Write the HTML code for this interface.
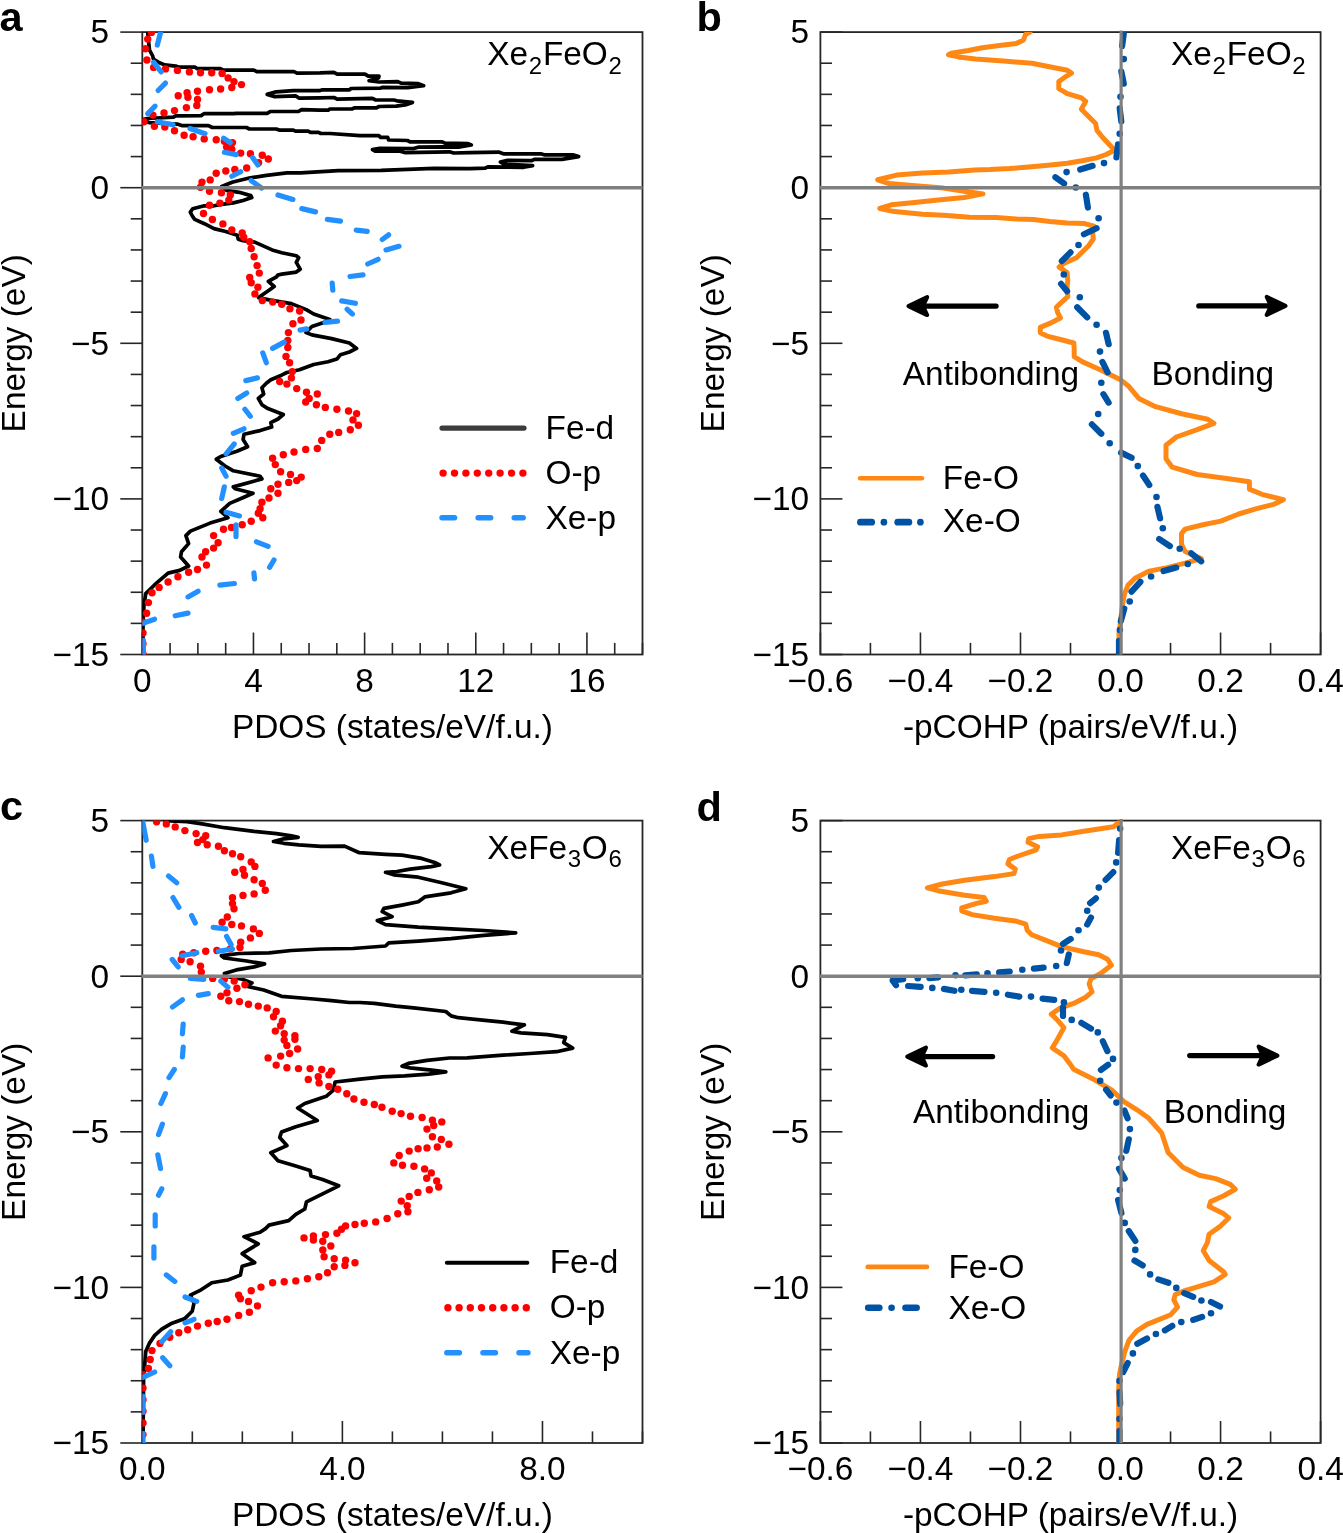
<!DOCTYPE html>
<html><head><meta charset="utf-8"><style>
html,body{margin:0;padding:0;background:#fff;}
svg{display:block;will-change:transform;}
</style></head><body>
<svg width="1343" height="1533" viewBox="0 0 1343 1533" font-family='"Liberation Sans", sans-serif' font-size="33.4" fill="#000">
<defs><clipPath id="clipa"><rect x="142.3" y="32.1" width="500.2" height="622.4"/></clipPath><clipPath id="clipb"><rect x="820.4" y="32.1" width="500.2" height="622.4"/></clipPath><clipPath id="clipc"><rect x="142.3" y="820.6" width="500.2" height="622.4"/></clipPath><clipPath id="clipd"><rect x="820.4" y="820.6" width="500.2" height="622.4"/></clipPath></defs>
<rect width="1343" height="1533" fill="#fff"/>
<rect x="142.3" y="32.1" width="500.2" height="622.4" fill="none" stroke="#262626" stroke-width="1.8"/>
<line x1="120.30" y1="654.50" x2="142.3" y2="654.50" stroke="#262626" stroke-width="1.6"/>
<text x="109.10" y="665.80" text-anchor="end">−15</text>
<line x1="130.70" y1="623.38" x2="142.3" y2="623.38" stroke="#262626" stroke-width="1.6"/>
<line x1="130.70" y1="592.26" x2="142.3" y2="592.26" stroke="#262626" stroke-width="1.6"/>
<line x1="130.70" y1="561.14" x2="142.3" y2="561.14" stroke="#262626" stroke-width="1.6"/>
<line x1="130.70" y1="530.02" x2="142.3" y2="530.02" stroke="#262626" stroke-width="1.6"/>
<line x1="120.30" y1="498.90" x2="142.3" y2="498.90" stroke="#262626" stroke-width="1.6"/>
<text x="109.10" y="510.20" text-anchor="end">−10</text>
<line x1="130.70" y1="467.78" x2="142.3" y2="467.78" stroke="#262626" stroke-width="1.6"/>
<line x1="130.70" y1="436.66" x2="142.3" y2="436.66" stroke="#262626" stroke-width="1.6"/>
<line x1="130.70" y1="405.54" x2="142.3" y2="405.54" stroke="#262626" stroke-width="1.6"/>
<line x1="130.70" y1="374.42" x2="142.3" y2="374.42" stroke="#262626" stroke-width="1.6"/>
<line x1="120.30" y1="343.30" x2="142.3" y2="343.30" stroke="#262626" stroke-width="1.6"/>
<text x="109.10" y="354.60" text-anchor="end">−5</text>
<line x1="130.70" y1="312.18" x2="142.3" y2="312.18" stroke="#262626" stroke-width="1.6"/>
<line x1="130.70" y1="281.06" x2="142.3" y2="281.06" stroke="#262626" stroke-width="1.6"/>
<line x1="130.70" y1="249.94" x2="142.3" y2="249.94" stroke="#262626" stroke-width="1.6"/>
<line x1="130.70" y1="218.82" x2="142.3" y2="218.82" stroke="#262626" stroke-width="1.6"/>
<line x1="120.30" y1="187.70" x2="142.3" y2="187.70" stroke="#262626" stroke-width="1.6"/>
<text x="109.10" y="199.00" text-anchor="end">0</text>
<line x1="130.70" y1="156.58" x2="142.3" y2="156.58" stroke="#262626" stroke-width="1.6"/>
<line x1="130.70" y1="125.46" x2="142.3" y2="125.46" stroke="#262626" stroke-width="1.6"/>
<line x1="130.70" y1="94.34" x2="142.3" y2="94.34" stroke="#262626" stroke-width="1.6"/>
<line x1="130.70" y1="63.22" x2="142.3" y2="63.22" stroke="#262626" stroke-width="1.6"/>
<line x1="120.30" y1="32.10" x2="142.3" y2="32.10" stroke="#262626" stroke-width="1.6"/>
<text x="109.10" y="43.40" text-anchor="end">5</text>
<line x1="142.30" y1="654.5" x2="142.30" y2="632.50" stroke="#262626" stroke-width="1.6"/>
<text x="142.30" y="691.50" text-anchor="middle">0</text>
<line x1="170.09" y1="654.5" x2="170.09" y2="642.90" stroke="#262626" stroke-width="1.6"/>
<line x1="197.88" y1="654.5" x2="197.88" y2="642.90" stroke="#262626" stroke-width="1.6"/>
<line x1="225.67" y1="654.5" x2="225.67" y2="642.90" stroke="#262626" stroke-width="1.6"/>
<line x1="253.46" y1="654.5" x2="253.46" y2="632.50" stroke="#262626" stroke-width="1.6"/>
<text x="253.46" y="691.50" text-anchor="middle">4</text>
<line x1="281.24" y1="654.5" x2="281.24" y2="642.90" stroke="#262626" stroke-width="1.6"/>
<line x1="309.03" y1="654.5" x2="309.03" y2="642.90" stroke="#262626" stroke-width="1.6"/>
<line x1="336.82" y1="654.5" x2="336.82" y2="642.90" stroke="#262626" stroke-width="1.6"/>
<line x1="364.61" y1="654.5" x2="364.61" y2="632.50" stroke="#262626" stroke-width="1.6"/>
<text x="364.61" y="691.50" text-anchor="middle">8</text>
<line x1="392.40" y1="654.5" x2="392.40" y2="642.90" stroke="#262626" stroke-width="1.6"/>
<line x1="420.19" y1="654.5" x2="420.19" y2="642.90" stroke="#262626" stroke-width="1.6"/>
<line x1="447.98" y1="654.5" x2="447.98" y2="642.90" stroke="#262626" stroke-width="1.6"/>
<line x1="475.77" y1="654.5" x2="475.77" y2="632.50" stroke="#262626" stroke-width="1.6"/>
<text x="475.77" y="691.50" text-anchor="middle">12</text>
<line x1="503.56" y1="654.5" x2="503.56" y2="642.90" stroke="#262626" stroke-width="1.6"/>
<line x1="531.34" y1="654.5" x2="531.34" y2="642.90" stroke="#262626" stroke-width="1.6"/>
<line x1="559.13" y1="654.5" x2="559.13" y2="642.90" stroke="#262626" stroke-width="1.6"/>
<line x1="586.92" y1="654.5" x2="586.92" y2="632.50" stroke="#262626" stroke-width="1.6"/>
<text x="586.92" y="691.50" text-anchor="middle">16</text>
<line x1="614.71" y1="654.5" x2="614.71" y2="642.90" stroke="#262626" stroke-width="1.6"/>
<line x1="642.50" y1="654.5" x2="642.50" y2="642.90" stroke="#262626" stroke-width="1.6"/>
<text x="392.40" y="737.60" text-anchor="middle">PDOS (states/eV/f.u.)</text>
<text transform="translate(24.80,343.30) rotate(-90)" text-anchor="middle">Energy (eV)</text>
<rect x="820.4" y="32.1" width="500.2" height="622.4" fill="none" stroke="#262626" stroke-width="1.8"/>
<line x1="820.4" y1="654.50" x2="842.40" y2="654.50" stroke="#262626" stroke-width="1.6"/>
<text x="809.20" y="665.80" text-anchor="end">−15</text>
<line x1="820.4" y1="623.38" x2="832.00" y2="623.38" stroke="#262626" stroke-width="1.6"/>
<line x1="820.4" y1="592.26" x2="832.00" y2="592.26" stroke="#262626" stroke-width="1.6"/>
<line x1="820.4" y1="561.14" x2="832.00" y2="561.14" stroke="#262626" stroke-width="1.6"/>
<line x1="820.4" y1="530.02" x2="832.00" y2="530.02" stroke="#262626" stroke-width="1.6"/>
<line x1="820.4" y1="498.90" x2="842.40" y2="498.90" stroke="#262626" stroke-width="1.6"/>
<text x="809.20" y="510.20" text-anchor="end">−10</text>
<line x1="820.4" y1="467.78" x2="832.00" y2="467.78" stroke="#262626" stroke-width="1.6"/>
<line x1="820.4" y1="436.66" x2="832.00" y2="436.66" stroke="#262626" stroke-width="1.6"/>
<line x1="820.4" y1="405.54" x2="832.00" y2="405.54" stroke="#262626" stroke-width="1.6"/>
<line x1="820.4" y1="374.42" x2="832.00" y2="374.42" stroke="#262626" stroke-width="1.6"/>
<line x1="820.4" y1="343.30" x2="842.40" y2="343.30" stroke="#262626" stroke-width="1.6"/>
<text x="809.20" y="354.60" text-anchor="end">−5</text>
<line x1="820.4" y1="312.18" x2="832.00" y2="312.18" stroke="#262626" stroke-width="1.6"/>
<line x1="820.4" y1="281.06" x2="832.00" y2="281.06" stroke="#262626" stroke-width="1.6"/>
<line x1="820.4" y1="249.94" x2="832.00" y2="249.94" stroke="#262626" stroke-width="1.6"/>
<line x1="820.4" y1="218.82" x2="832.00" y2="218.82" stroke="#262626" stroke-width="1.6"/>
<line x1="820.4" y1="187.70" x2="842.40" y2="187.70" stroke="#262626" stroke-width="1.6"/>
<text x="809.20" y="199.00" text-anchor="end">0</text>
<line x1="820.4" y1="156.58" x2="832.00" y2="156.58" stroke="#262626" stroke-width="1.6"/>
<line x1="820.4" y1="125.46" x2="832.00" y2="125.46" stroke="#262626" stroke-width="1.6"/>
<line x1="820.4" y1="94.34" x2="832.00" y2="94.34" stroke="#262626" stroke-width="1.6"/>
<line x1="820.4" y1="63.22" x2="832.00" y2="63.22" stroke="#262626" stroke-width="1.6"/>
<line x1="820.4" y1="32.10" x2="842.40" y2="32.10" stroke="#262626" stroke-width="1.6"/>
<text x="809.20" y="43.40" text-anchor="end">5</text>
<line x1="820.40" y1="654.5" x2="820.40" y2="632.50" stroke="#262626" stroke-width="1.6"/>
<text x="820.40" y="691.50" text-anchor="middle">−0.6</text>
<line x1="870.42" y1="654.5" x2="870.42" y2="642.90" stroke="#262626" stroke-width="1.6"/>
<line x1="920.44" y1="654.5" x2="920.44" y2="632.50" stroke="#262626" stroke-width="1.6"/>
<text x="920.44" y="691.50" text-anchor="middle">−0.4</text>
<line x1="970.46" y1="654.5" x2="970.46" y2="642.90" stroke="#262626" stroke-width="1.6"/>
<line x1="1020.48" y1="654.5" x2="1020.48" y2="632.50" stroke="#262626" stroke-width="1.6"/>
<text x="1020.48" y="691.50" text-anchor="middle">−0.2</text>
<line x1="1070.50" y1="654.5" x2="1070.50" y2="642.90" stroke="#262626" stroke-width="1.6"/>
<line x1="1120.52" y1="654.5" x2="1120.52" y2="632.50" stroke="#262626" stroke-width="1.6"/>
<text x="1120.52" y="691.50" text-anchor="middle">0.0</text>
<line x1="1170.54" y1="654.5" x2="1170.54" y2="642.90" stroke="#262626" stroke-width="1.6"/>
<line x1="1220.56" y1="654.5" x2="1220.56" y2="632.50" stroke="#262626" stroke-width="1.6"/>
<text x="1220.56" y="691.50" text-anchor="middle">0.2</text>
<line x1="1270.58" y1="654.5" x2="1270.58" y2="642.90" stroke="#262626" stroke-width="1.6"/>
<line x1="1320.60" y1="654.5" x2="1320.60" y2="632.50" stroke="#262626" stroke-width="1.6"/>
<text x="1320.60" y="691.50" text-anchor="middle">0.4</text>
<text x="1070.50" y="737.60" text-anchor="middle">-pCOHP (pairs/eV/f.u.)</text>
<text transform="translate(724.20,343.30) rotate(-90)" text-anchor="middle">Energy (eV)</text>
<rect x="142.3" y="820.6" width="500.2" height="622.4" fill="none" stroke="#262626" stroke-width="1.8"/>
<line x1="120.30" y1="1443.00" x2="142.3" y2="1443.00" stroke="#262626" stroke-width="1.6"/>
<text x="109.10" y="1454.30" text-anchor="end">−15</text>
<line x1="130.70" y1="1411.88" x2="142.3" y2="1411.88" stroke="#262626" stroke-width="1.6"/>
<line x1="130.70" y1="1380.76" x2="142.3" y2="1380.76" stroke="#262626" stroke-width="1.6"/>
<line x1="130.70" y1="1349.64" x2="142.3" y2="1349.64" stroke="#262626" stroke-width="1.6"/>
<line x1="130.70" y1="1318.52" x2="142.3" y2="1318.52" stroke="#262626" stroke-width="1.6"/>
<line x1="120.30" y1="1287.40" x2="142.3" y2="1287.40" stroke="#262626" stroke-width="1.6"/>
<text x="109.10" y="1298.70" text-anchor="end">−10</text>
<line x1="130.70" y1="1256.28" x2="142.3" y2="1256.28" stroke="#262626" stroke-width="1.6"/>
<line x1="130.70" y1="1225.16" x2="142.3" y2="1225.16" stroke="#262626" stroke-width="1.6"/>
<line x1="130.70" y1="1194.04" x2="142.3" y2="1194.04" stroke="#262626" stroke-width="1.6"/>
<line x1="130.70" y1="1162.92" x2="142.3" y2="1162.92" stroke="#262626" stroke-width="1.6"/>
<line x1="120.30" y1="1131.80" x2="142.3" y2="1131.80" stroke="#262626" stroke-width="1.6"/>
<text x="109.10" y="1143.10" text-anchor="end">−5</text>
<line x1="130.70" y1="1100.68" x2="142.3" y2="1100.68" stroke="#262626" stroke-width="1.6"/>
<line x1="130.70" y1="1069.56" x2="142.3" y2="1069.56" stroke="#262626" stroke-width="1.6"/>
<line x1="130.70" y1="1038.44" x2="142.3" y2="1038.44" stroke="#262626" stroke-width="1.6"/>
<line x1="130.70" y1="1007.32" x2="142.3" y2="1007.32" stroke="#262626" stroke-width="1.6"/>
<line x1="120.30" y1="976.20" x2="142.3" y2="976.20" stroke="#262626" stroke-width="1.6"/>
<text x="109.10" y="987.50" text-anchor="end">0</text>
<line x1="130.70" y1="945.08" x2="142.3" y2="945.08" stroke="#262626" stroke-width="1.6"/>
<line x1="130.70" y1="913.96" x2="142.3" y2="913.96" stroke="#262626" stroke-width="1.6"/>
<line x1="130.70" y1="882.84" x2="142.3" y2="882.84" stroke="#262626" stroke-width="1.6"/>
<line x1="130.70" y1="851.72" x2="142.3" y2="851.72" stroke="#262626" stroke-width="1.6"/>
<line x1="120.30" y1="820.60" x2="142.3" y2="820.60" stroke="#262626" stroke-width="1.6"/>
<text x="109.10" y="831.90" text-anchor="end">5</text>
<line x1="142.30" y1="1443.0" x2="142.30" y2="1421.00" stroke="#262626" stroke-width="1.6"/>
<text x="142.30" y="1480.00" text-anchor="middle">0.0</text>
<line x1="192.32" y1="1443.0" x2="192.32" y2="1431.40" stroke="#262626" stroke-width="1.6"/>
<line x1="242.34" y1="1443.0" x2="242.34" y2="1431.40" stroke="#262626" stroke-width="1.6"/>
<line x1="292.36" y1="1443.0" x2="292.36" y2="1431.40" stroke="#262626" stroke-width="1.6"/>
<line x1="342.38" y1="1443.0" x2="342.38" y2="1421.00" stroke="#262626" stroke-width="1.6"/>
<text x="342.38" y="1480.00" text-anchor="middle">4.0</text>
<line x1="392.40" y1="1443.0" x2="392.40" y2="1431.40" stroke="#262626" stroke-width="1.6"/>
<line x1="442.42" y1="1443.0" x2="442.42" y2="1431.40" stroke="#262626" stroke-width="1.6"/>
<line x1="492.44" y1="1443.0" x2="492.44" y2="1431.40" stroke="#262626" stroke-width="1.6"/>
<line x1="542.46" y1="1443.0" x2="542.46" y2="1421.00" stroke="#262626" stroke-width="1.6"/>
<text x="542.46" y="1480.00" text-anchor="middle">8.0</text>
<line x1="592.48" y1="1443.0" x2="592.48" y2="1431.40" stroke="#262626" stroke-width="1.6"/>
<line x1="642.50" y1="1443.0" x2="642.50" y2="1431.40" stroke="#262626" stroke-width="1.6"/>
<text x="392.40" y="1526.10" text-anchor="middle">PDOS (states/eV/f.u.)</text>
<text transform="translate(24.80,1131.80) rotate(-90)" text-anchor="middle">Energy (eV)</text>
<rect x="820.4" y="820.6" width="500.2" height="622.4" fill="none" stroke="#262626" stroke-width="1.8"/>
<line x1="820.4" y1="1443.00" x2="842.40" y2="1443.00" stroke="#262626" stroke-width="1.6"/>
<text x="809.20" y="1454.30" text-anchor="end">−15</text>
<line x1="820.4" y1="1411.88" x2="832.00" y2="1411.88" stroke="#262626" stroke-width="1.6"/>
<line x1="820.4" y1="1380.76" x2="832.00" y2="1380.76" stroke="#262626" stroke-width="1.6"/>
<line x1="820.4" y1="1349.64" x2="832.00" y2="1349.64" stroke="#262626" stroke-width="1.6"/>
<line x1="820.4" y1="1318.52" x2="832.00" y2="1318.52" stroke="#262626" stroke-width="1.6"/>
<line x1="820.4" y1="1287.40" x2="842.40" y2="1287.40" stroke="#262626" stroke-width="1.6"/>
<text x="809.20" y="1298.70" text-anchor="end">−10</text>
<line x1="820.4" y1="1256.28" x2="832.00" y2="1256.28" stroke="#262626" stroke-width="1.6"/>
<line x1="820.4" y1="1225.16" x2="832.00" y2="1225.16" stroke="#262626" stroke-width="1.6"/>
<line x1="820.4" y1="1194.04" x2="832.00" y2="1194.04" stroke="#262626" stroke-width="1.6"/>
<line x1="820.4" y1="1162.92" x2="832.00" y2="1162.92" stroke="#262626" stroke-width="1.6"/>
<line x1="820.4" y1="1131.80" x2="842.40" y2="1131.80" stroke="#262626" stroke-width="1.6"/>
<text x="809.20" y="1143.10" text-anchor="end">−5</text>
<line x1="820.4" y1="1100.68" x2="832.00" y2="1100.68" stroke="#262626" stroke-width="1.6"/>
<line x1="820.4" y1="1069.56" x2="832.00" y2="1069.56" stroke="#262626" stroke-width="1.6"/>
<line x1="820.4" y1="1038.44" x2="832.00" y2="1038.44" stroke="#262626" stroke-width="1.6"/>
<line x1="820.4" y1="1007.32" x2="832.00" y2="1007.32" stroke="#262626" stroke-width="1.6"/>
<line x1="820.4" y1="976.20" x2="842.40" y2="976.20" stroke="#262626" stroke-width="1.6"/>
<text x="809.20" y="987.50" text-anchor="end">0</text>
<line x1="820.4" y1="945.08" x2="832.00" y2="945.08" stroke="#262626" stroke-width="1.6"/>
<line x1="820.4" y1="913.96" x2="832.00" y2="913.96" stroke="#262626" stroke-width="1.6"/>
<line x1="820.4" y1="882.84" x2="832.00" y2="882.84" stroke="#262626" stroke-width="1.6"/>
<line x1="820.4" y1="851.72" x2="832.00" y2="851.72" stroke="#262626" stroke-width="1.6"/>
<line x1="820.4" y1="820.60" x2="842.40" y2="820.60" stroke="#262626" stroke-width="1.6"/>
<text x="809.20" y="831.90" text-anchor="end">5</text>
<line x1="820.40" y1="1443.0" x2="820.40" y2="1421.00" stroke="#262626" stroke-width="1.6"/>
<text x="820.40" y="1480.00" text-anchor="middle">−0.6</text>
<line x1="870.42" y1="1443.0" x2="870.42" y2="1431.40" stroke="#262626" stroke-width="1.6"/>
<line x1="920.44" y1="1443.0" x2="920.44" y2="1421.00" stroke="#262626" stroke-width="1.6"/>
<text x="920.44" y="1480.00" text-anchor="middle">−0.4</text>
<line x1="970.46" y1="1443.0" x2="970.46" y2="1431.40" stroke="#262626" stroke-width="1.6"/>
<line x1="1020.48" y1="1443.0" x2="1020.48" y2="1421.00" stroke="#262626" stroke-width="1.6"/>
<text x="1020.48" y="1480.00" text-anchor="middle">−0.2</text>
<line x1="1070.50" y1="1443.0" x2="1070.50" y2="1431.40" stroke="#262626" stroke-width="1.6"/>
<line x1="1120.52" y1="1443.0" x2="1120.52" y2="1421.00" stroke="#262626" stroke-width="1.6"/>
<text x="1120.52" y="1480.00" text-anchor="middle">0.0</text>
<line x1="1170.54" y1="1443.0" x2="1170.54" y2="1431.40" stroke="#262626" stroke-width="1.6"/>
<line x1="1220.56" y1="1443.0" x2="1220.56" y2="1421.00" stroke="#262626" stroke-width="1.6"/>
<text x="1220.56" y="1480.00" text-anchor="middle">0.2</text>
<line x1="1270.58" y1="1443.0" x2="1270.58" y2="1431.40" stroke="#262626" stroke-width="1.6"/>
<line x1="1320.60" y1="1443.0" x2="1320.60" y2="1421.00" stroke="#262626" stroke-width="1.6"/>
<text x="1320.60" y="1480.00" text-anchor="middle">0.4</text>
<text x="1070.50" y="1526.10" text-anchor="middle">-pCOHP (pairs/eV/f.u.)</text>
<text transform="translate(724.20,1131.80) rotate(-90)" text-anchor="middle">Energy (eV)</text>
<text x="-0.5" y="31" font-size="41.5" font-weight="bold">a</text>
<text x="696.5" y="30.6" font-size="41.5" font-weight="bold">b</text>
<text x="0" y="819.6" font-size="41.5" font-weight="bold">c</text>
<text x="696.5" y="820.6" font-size="41.5" font-weight="bold">d</text>
<text x="487.3" y="65.1"><tspan>Xe</tspan><tspan font-size="24" dx="0.6" dy="8.4">2</tspan><tspan dx="0.8" dy="-8.4">FeO</tspan><tspan font-size="24" dx="0.6" dy="8.4">2</tspan></text>
<text x="1171.1" y="65.3"><tspan>Xe</tspan><tspan font-size="24" dx="0.6" dy="8.4">2</tspan><tspan dx="0.8" dy="-8.4">FeO</tspan><tspan font-size="24" dx="0.6" dy="8.4">2</tspan></text>
<text x="487.3" y="859"><tspan>XeFe</tspan><tspan font-size="24" dx="0.6" dy="8.4">3</tspan><tspan dx="0.8" dy="-8.4">O</tspan><tspan font-size="24" dx="0.6" dy="8.4">6</tspan></text>
<text x="1171.1" y="859"><tspan>XeFe</tspan><tspan font-size="24" dx="0.6" dy="8.4">3</tspan><tspan dx="0.8" dy="-8.4">O</tspan><tspan font-size="24" dx="0.6" dy="8.4">6</tspan></text>
<line x1="442.0" y1="428.1" x2="524.0" y2="428.1" stroke="#3c3c3c" stroke-width="5.2" stroke-linecap="round"/>
<circle cx="443.1" cy="473.1" r="3.7" fill="#ff0000"/>
<circle cx="454.5" cy="473.1" r="3.7" fill="#ff0000"/>
<circle cx="465.9" cy="473.1" r="3.7" fill="#ff0000"/>
<circle cx="477.3" cy="473.1" r="3.7" fill="#ff0000"/>
<circle cx="488.7" cy="473.1" r="3.7" fill="#ff0000"/>
<circle cx="500.1" cy="473.1" r="3.7" fill="#ff0000"/>
<circle cx="511.5" cy="473.1" r="3.7" fill="#ff0000"/>
<circle cx="522.9" cy="473.1" r="3.7" fill="#ff0000"/>
<line x1="442.0" y1="517.8" x2="454.6" y2="517.8" stroke="#2390ff" stroke-width="5.4" stroke-linecap="round"/>
<line x1="478.1" y1="517.8" x2="490.7" y2="517.8" stroke="#2390ff" stroke-width="5.4" stroke-linecap="round"/>
<line x1="514.2" y1="517.8" x2="523.2" y2="517.8" stroke="#2390ff" stroke-width="5.4" stroke-linecap="round"/>
<text x="545.5" y="438.9">Fe-d</text>
<text x="545.5" y="484.3">O-p</text>
<text x="545.5" y="528.5">Xe-p</text>
<line x1="446.8" y1="1262.8" x2="527.4" y2="1262.8" stroke="#000" stroke-width="3.9" stroke-linecap="round"/>
<circle cx="447.9" cy="1307.7" r="3.7" fill="#ff0000"/>
<circle cx="459.1" cy="1307.7" r="3.7" fill="#ff0000"/>
<circle cx="470.3" cy="1307.7" r="3.7" fill="#ff0000"/>
<circle cx="481.5" cy="1307.7" r="3.7" fill="#ff0000"/>
<circle cx="492.7" cy="1307.7" r="3.7" fill="#ff0000"/>
<circle cx="503.9" cy="1307.7" r="3.7" fill="#ff0000"/>
<circle cx="515.1" cy="1307.7" r="3.7" fill="#ff0000"/>
<circle cx="526.3" cy="1307.7" r="3.7" fill="#ff0000"/>
<line x1="446.8" y1="1352.8" x2="459.4" y2="1352.8" stroke="#2390ff" stroke-width="5.4" stroke-linecap="round"/>
<line x1="482.9" y1="1352.8" x2="495.5" y2="1352.8" stroke="#2390ff" stroke-width="5.4" stroke-linecap="round"/>
<line x1="519.0" y1="1352.8" x2="528.0" y2="1352.8" stroke="#2390ff" stroke-width="5.4" stroke-linecap="round"/>
<text x="549.7" y="1273.0">Fe-d</text>
<text x="549.7" y="1318.4">O-p</text>
<text x="549.7" y="1363.7">Xe-p</text>
<line x1="860.1" y1="478.3" x2="921.9" y2="478.3" stroke="#ff8814" stroke-width="4.6" stroke-linecap="round"/>
<line x1="860.4" y1="522.2" x2="871.7" y2="522.2" stroke="#0052a5" stroke-width="6.7" stroke-linecap="round"/>
<circle cx="883.9" cy="522.2" r="3.35" fill="#0052a5"/>
<line x1="897.7" y1="522.2" x2="908.9" y2="522.2" stroke="#0052a5" stroke-width="6.7" stroke-linecap="round"/>
<circle cx="920.4" cy="522.2" r="3.35" fill="#0052a5"/>
<text x="942.8" y="489">Fe-O</text>
<text x="942.8" y="531.9">Xe-O</text>
<line x1="867.8" y1="1266.9" x2="926.9" y2="1266.9" stroke="#ff8814" stroke-width="4.8" stroke-linecap="round"/>
<line x1="868.2" y1="1307.8" x2="879.3" y2="1307.8" stroke="#0052a5" stroke-width="6.6" stroke-linecap="round"/>
<circle cx="891.6" cy="1307.8" r="3.3" fill="#0052a5"/>
<line x1="905.5" y1="1307.8" x2="916.6" y2="1307.8" stroke="#0052a5" stroke-width="6.6" stroke-linecap="round"/>
<text x="948.4" y="1277.5">Fe-O</text>
<text x="948.4" y="1318.5">Xe-O</text>
<line x1="996.1" y1="306.1" x2="923.0" y2="306.1" stroke="#000" stroke-width="5.2" stroke-linecap="round"/>
<path d="M908.4,306.1 L927.2,297.1 L923.0,306.1 L927.2,315.1 Z" fill="#000" stroke="#000" stroke-width="4" stroke-linejoin="round"/>
<line x1="1198.8" y1="305.9" x2="1270.9" y2="305.9" stroke="#000" stroke-width="5.2" stroke-linecap="round"/>
<path d="M1285.5,305.9 L1266.7,296.9 L1270.9,305.9 L1266.7,314.9 Z" fill="#000" stroke="#000" stroke-width="4" stroke-linejoin="round"/>
<line x1="992.6" y1="1056.6" x2="921.8" y2="1056.6" stroke="#000" stroke-width="5.2" stroke-linecap="round"/>
<path d="M907.2,1056.6 L926.0,1047.6 L921.8,1056.6 L926.0,1065.6 Z" fill="#000" stroke="#000" stroke-width="4" stroke-linejoin="round"/>
<line x1="1189.7" y1="1055.6" x2="1262.8" y2="1055.6" stroke="#000" stroke-width="5.2" stroke-linecap="round"/>
<path d="M1277.4,1055.6 L1258.6,1046.6 L1262.8,1055.6 L1258.6,1064.6 Z" fill="#000" stroke="#000" stroke-width="4" stroke-linejoin="round"/>
<text x="902.8" y="385.4">Antibonding</text>
<text x="1151.5" y="384.8">Bonding</text>
<text x="912.9" y="1122.5">Antibonding</text>
<text x="1163.8" y="1122.9">Bonding</text>
<g clip-path="url(#clipa)">
<polyline points="147.7,32.1 148.4,39.9 149.5,50.0 152.7,56.0 153.4,59.0 159.4,62.7 164.6,64.9 175.7,66.1 178.7,67.2 195.1,67.2 197.3,68.7 220.4,68.7 223.4,70.1 253.8,70.2 256.8,71.7 294.0,71.7 297.0,73.2 320.0,72.9 333.9,72.4 337.2,74.2 365.0,74.2 368.3,76.2 379.0,76.2 378.6,77.9 369.1,80.7 379.0,82.0 397.8,81.6 401.1,83.2 418.3,83.6 423.6,85.7 407.6,87.7 382.2,87.3 380.6,88.1 351.1,88.5 349.5,89.8 322.5,89.8 319.4,90.7 293.3,90.7 276.2,91.8 267.2,94.4 274.7,96.6 295.5,95.9 299.2,98.1 320.0,97.8 333.9,97.5 337.2,99.2 372.4,98.4 375.7,100.0 393.7,100.0 397.0,100.8 412.5,102.4 405.2,104.9 396.2,106.1 379.0,106.5 376.5,107.8 354.4,107.8 351.9,109.0 329.8,109.0 328.2,110.2 320.0,110.2 301.5,109.7 298.5,111.5 270.2,111.5 267.2,113.4 236.0,113.4 233.8,113.7 204.0,113.7 201.1,115.6 175.7,115.9 173.5,117.1 147.4,118.5 142.6,119.5 142.6,120.2 148.9,122.6 177.2,124.1 181.7,125.6 208.5,125.6 212.2,127.5 246.4,127.5 249.4,129.0 276.2,129.0 279.1,130.1 293.3,130.1 295.5,131.2 308.2,131.2 310.4,132.4 318.6,132.4 320.8,133.5 330.0,133.5 360.0,135.6 378.8,135.6 380.6,137.4 387.7,137.4 388.6,140.0 407.4,140.5 410.0,141.8 442.2,141.8 444.9,143.2 468.1,143.6 471.3,145.0 458.3,147.2 443.1,146.9 418.1,147.2 413.6,148.5 379.7,148.3 372.5,149.6 375.2,151.2 400.2,151.2 404.7,152.6 449.4,151.8 453.8,153.0 470.0,152.6 498.6,152.1 504.0,153.9 541.5,153.9 544.2,154.8 572.8,154.8 578.6,156.6 562.0,159.3 534.3,159.3 531.7,160.6 507.5,160.4 500.4,162.0 504.0,164.2 532.6,165.6 523.6,167.3 487.9,166.8 485.2,168.2 470.0,168.7 434.2,168.4 381.1,170.3 338.3,170.6 300.6,172.8 286.9,172.8 266.4,175.4 249.2,178.0 232.1,182.3 221.8,186.5 226.6,190.3 239.2,192.3 250.8,195.6 251.8,197.6 243.1,200.5 233.4,202.9 221.8,204.4 214.0,205.8 204.4,205.8 192.7,208.7 190.3,212.1 192.3,216.0 194.7,219.4 204.4,223.7 214.0,228.6 225.7,231.5 237.3,235.3 238.2,239.2 243.1,240.7 254.7,242.1 272.1,249.9 281.8,252.8 296.3,255.7 298.7,257.6 296.3,262.4 300.2,269.2 296.3,272.1 281.8,274.1 277.9,275.0 276.5,276.8 268.3,281.3 274.2,286.5 269.0,290.2 258.6,297.6 269.0,299.9 291.4,303.6 306.3,309.6 313.7,314.0 329.8,319.4 323.8,322.4 311.9,326.5 306.0,332.5 311.9,334.9 331.6,338.6 349.4,343.0 356.6,348.4 349.4,352.0 340.5,354.7 336.9,359.1 328.0,361.8 313.7,364.5 299.4,369.8 286.9,372.5 281.5,375.2 270.8,379.7 266.3,383.2 261.9,387.7 263.7,394.0 258.3,398.4 261.9,404.7 267.2,408.3 283.3,414.5 278.0,419.0 270.8,422.6 271.7,427.0 260.1,430.6 244.0,434.2 243.1,439.5 247.6,446.7 236.9,451.2 220.8,456.5 216.3,459.2 224.3,465.5 233.3,470.8 260.1,476.2 261.9,478.9 233.3,486.9 235.1,488.7 253.0,493.3 242.2,498.0 229.7,503.4 220.8,511.4 227.9,517.7 210.1,523.1 190.4,531.1 185.9,535.6 188.6,543.6 181.5,551.7 180.6,557.0 188.6,566.0 179.7,570.4 168.1,573.1 154.7,584.7 145.7,593.6 143.9,606.2 143.0,624.0 143.0,654.4" fill="none" stroke="#000" stroke-width="3.7" stroke-linejoin="round" stroke-linecap="round"/>
<g fill="#ff0000"><circle cx="151.4" cy="32.4" r="3.7"/><circle cx="147.7" cy="39.1" r="3.7"/><circle cx="145.4" cy="48.8" r="3.7"/><circle cx="146.9" cy="60.0" r="3.7"/><circle cx="153.6" cy="67.4" r="3.7"/><circle cx="165.5" cy="68.9" r="3.7"/><circle cx="177.4" cy="70.4" r="3.7"/><circle cx="189.4" cy="71.9" r="3.7"/><circle cx="200.5" cy="72.7" r="3.7"/><circle cx="211.7" cy="72.7" r="3.7"/><circle cx="222.1" cy="73.4" r="3.7"/><circle cx="228.1" cy="77.9" r="3.7"/><circle cx="234.0" cy="81.6" r="3.7"/><circle cx="241.5" cy="84.6" r="3.7"/><circle cx="231.8" cy="87.5" r="3.7"/><circle cx="220.6" cy="89.0" r="3.7"/><circle cx="209.5" cy="89.8" r="3.7"/><circle cx="197.5" cy="91.3" r="3.7"/><circle cx="187.1" cy="92.8" r="3.7"/><circle cx="178.2" cy="95.7" r="3.7"/><circle cx="187.9" cy="97.2" r="3.7"/><circle cx="197.5" cy="99.5" r="3.7"/><circle cx="196.8" cy="105.4" r="3.7"/><circle cx="186.4" cy="107.6" r="3.7"/><circle cx="174.5" cy="110.6" r="3.7"/><circle cx="164.0" cy="112.9" r="3.7"/><circle cx="152.9" cy="115.1" r="3.7"/><circle cx="143.9" cy="121.8" r="3.7"/><circle cx="154.4" cy="126.3" r="3.7"/><circle cx="164.8" cy="127.0" r="3.7"/><circle cx="174.5" cy="130.7" r="3.7"/><circle cx="184.1" cy="135.2" r="3.7"/><circle cx="193.1" cy="136.7" r="3.7"/><circle cx="204.2" cy="138.9" r="3.7"/><circle cx="216.2" cy="139.7" r="3.7"/><circle cx="224.4" cy="141.2" r="3.7"/><circle cx="232.5" cy="142.6" r="3.7"/><circle cx="226.6" cy="147.1" r="3.7"/><circle cx="231.8" cy="149.3" r="3.7"/><circle cx="240.7" cy="153.1" r="3.7"/><circle cx="250.4" cy="153.8" r="3.7"/><circle cx="262.3" cy="155.3" r="3.7"/><circle cx="268.3" cy="159.0" r="3.7"/><circle cx="258.6" cy="162.8" r="3.7"/><circle cx="246.7" cy="168.0" r="3.7"/><circle cx="234.8" cy="169.5" r="3.7"/><circle cx="225.8" cy="171.0" r="3.7"/><circle cx="216.2" cy="173.2" r="3.7"/><circle cx="210.2" cy="179.9" r="3.7"/><circle cx="202.0" cy="182.1" r="3.7"/><circle cx="200.5" cy="187.3" r="3.7"/><circle cx="209.5" cy="191.2" r="3.7"/><circle cx="221.4" cy="192.7" r="3.7"/><circle cx="230.3" cy="194.9" r="3.7"/><circle cx="228.8" cy="200.1" r="3.7"/><circle cx="219.9" cy="203.1" r="3.7"/><circle cx="209.5" cy="205.3" r="3.7"/><circle cx="203.5" cy="213.5" r="3.7"/><circle cx="212.4" cy="219.5" r="3.7"/><circle cx="222.9" cy="223.9" r="3.7"/><circle cx="231.8" cy="229.9" r="3.7"/><circle cx="242.2" cy="232.9" r="3.7"/><circle cx="243.7" cy="237.3" r="3.7"/><circle cx="249.7" cy="241.8" r="3.7"/><circle cx="251.2" cy="248.5" r="3.7"/><circle cx="254.1" cy="256.7" r="3.7"/><circle cx="257.1" cy="265.6" r="3.7"/><circle cx="259.3" cy="273.1" r="3.7"/><circle cx="249.7" cy="277.5" r="3.7"/><circle cx="251.2" cy="282.8" r="3.7"/><circle cx="257.9" cy="287.2" r="3.7"/><circle cx="254.9" cy="293.9" r="3.7"/><circle cx="262.3" cy="300.6" r="3.7"/><circle cx="272.7" cy="302.1" r="3.7"/><circle cx="281.7" cy="304.3" r="3.7"/><circle cx="289.9" cy="308.8" r="3.7"/><circle cx="299.6" cy="311.0" r="3.7"/><circle cx="301.0" cy="320.0" r="3.7"/><circle cx="292.9" cy="323.7" r="3.7"/><circle cx="288.4" cy="332.6" r="3.7"/><circle cx="287.8" cy="340.4" r="3.7"/><circle cx="287.8" cy="347.5" r="3.7"/><circle cx="286.0" cy="356.4" r="3.7"/><circle cx="289.6" cy="362.7" r="3.7"/><circle cx="292.3" cy="371.6" r="3.7"/><circle cx="291.4" cy="377.9" r="3.7"/><circle cx="279.7" cy="381.5" r="3.7"/><circle cx="286.9" cy="384.1" r="3.7"/><circle cx="296.7" cy="388.6" r="3.7"/><circle cx="306.5" cy="392.2" r="3.7"/><circle cx="317.3" cy="394.0" r="3.7"/><circle cx="309.2" cy="398.4" r="3.7"/><circle cx="305.7" cy="402.0" r="3.7"/><circle cx="316.4" cy="404.7" r="3.7"/><circle cx="325.3" cy="407.4" r="3.7"/><circle cx="336.9" cy="409.2" r="3.7"/><circle cx="348.5" cy="411.0" r="3.7"/><circle cx="356.6" cy="413.6" r="3.7"/><circle cx="353.0" cy="419.9" r="3.7"/><circle cx="358.4" cy="425.2" r="3.7"/><circle cx="350.3" cy="429.7" r="3.7"/><circle cx="338.7" cy="432.4" r="3.7"/><circle cx="329.8" cy="434.2" r="3.7"/><circle cx="321.7" cy="440.4" r="3.7"/><circle cx="317.3" cy="448.5" r="3.7"/><circle cx="305.7" cy="449.4" r="3.7"/><circle cx="294.0" cy="452.0" r="3.7"/><circle cx="283.3" cy="454.7" r="3.7"/><circle cx="272.6" cy="458.3" r="3.7"/><circle cx="275.3" cy="464.6" r="3.7"/><circle cx="280.6" cy="471.7" r="3.7"/><circle cx="290.5" cy="474.4" r="3.7"/><circle cx="301.2" cy="477.1" r="3.7"/><circle cx="296.7" cy="480.6" r="3.7"/><circle cx="288.7" cy="482.4" r="3.7"/><circle cx="278.0" cy="484.2" r="3.7"/><circle cx="270.8" cy="488.7" r="3.7"/><circle cx="278.0" cy="493.3" r="3.7"/><circle cx="269.0" cy="498.0" r="3.7"/><circle cx="261.9" cy="502.3" r="3.7"/><circle cx="260.1" cy="508.8" r="3.7"/><circle cx="258.3" cy="513.2" r="3.7"/><circle cx="262.8" cy="517.7" r="3.7"/><circle cx="251.2" cy="521.3" r="3.7"/><circle cx="242.2" cy="524.8" r="3.7"/><circle cx="231.5" cy="527.5" r="3.7"/><circle cx="223.5" cy="529.3" r="3.7"/><circle cx="213.6" cy="535.6" r="3.7"/><circle cx="218.1" cy="542.7" r="3.7"/><circle cx="213.6" cy="548.1" r="3.7"/><circle cx="205.6" cy="551.7" r="3.7"/><circle cx="202.0" cy="557.0" r="3.7"/><circle cx="206.5" cy="565.1" r="3.7"/><circle cx="197.5" cy="569.5" r="3.7"/><circle cx="188.6" cy="572.2" r="3.7"/><circle cx="177.9" cy="576.7" r="3.7"/><circle cx="168.1" cy="582.0" r="3.7"/><circle cx="159.1" cy="587.4" r="3.7"/><circle cx="152.0" cy="592.8" r="3.7"/><circle cx="148.4" cy="602.6" r="3.7"/><circle cx="146.6" cy="613.3" r="3.7"/><circle cx="143.0" cy="622.2" r="3.7"/><circle cx="143.0" cy="633.0" r="3.7"/><circle cx="143.0" cy="643.7" r="3.7"/><circle cx="143.0" cy="654.0" r="3.7"/></g>
<g stroke="#2390ff" stroke-width="5.2" stroke-linecap="round" fill="none"><line x1="160.5" y1="32.5" x2="157.3" y2="45.1"/><line x1="153.6" y1="62.2" x2="161.1" y2="71.9"/><line x1="165.5" y1="83.1" x2="158.1" y2="90.5"/><line x1="155.1" y1="106.2" x2="147.7" y2="113.6"/><line x1="157.3" y1="121.8" x2="173" y2="124.8"/><line x1="190.1" y1="128.5" x2="205" y2="133.7"/><line x1="223.6" y1="138.2" x2="230.3" y2="142.6"/><line x1="224.4" y1="152.3" x2="236.3" y2="154.6"/><line x1="252.6" y1="157.5" x2="257.9" y2="165"/><line x1="240.7" y1="171.7" x2="231.8" y2="176.2"/><line x1="251.2" y1="180.6" x2="261.6" y2="188.1"/><line x1="278" y1="194.9" x2="292.9" y2="199.4"/><line x1="301.8" y1="208.6" x2="315.5" y2="211.9"/><line x1="327.4" y1="219.3" x2="340.5" y2="221.1"/><line x1="356.3" y1="230.1" x2="367.2" y2="231.4"/><line x1="382.3" y1="239.5" x2="388.6" y2="234.8"/><line x1="386" y1="249.9" x2="399" y2="246.3"/><line x1="378.1" y1="259.3" x2="367.7" y2="264"/><line x1="363" y1="274.9" x2="350" y2="276.5"/><line x1="332.2" y1="283" x2="332.8" y2="290.2"/><line x1="341.7" y1="300.9" x2="355.4" y2="303.3"/><line x1="347.1" y1="309.3" x2="352.4" y2="314"/><line x1="337.5" y1="321.2" x2="325" y2="322.4"/><line x1="306.6" y1="328.9" x2="300" y2="330.1"/><line x1="284.2" y1="342.1" x2="272.6" y2="348.4"/><line x1="262.8" y1="352.9" x2="266.3" y2="362.7"/><line x1="257.4" y1="377.9" x2="245.8" y2="380.6"/><line x1="246.7" y1="393.1" x2="237.8" y2="398.4"/><line x1="244.9" y1="409.2" x2="250.3" y2="416.3"/><line x1="244" y1="428.8" x2="233.3" y2="433.3"/><line x1="234.2" y1="444" x2="226.1" y2="453.8"/><line x1="221.7" y1="468.1" x2="226.1" y2="476.2"/><line x1="224.3" y1="486.9" x2="221.7" y2="498.5"/><line x1="226.1" y1="512.3" x2="239.5" y2="515.9"/><line x1="236" y1="524.8" x2="236" y2="536.5"/><line x1="256.5" y1="541.8" x2="268.1" y2="546.3"/><line x1="274" y1="560" x2="269.6" y2="567.3"/><line x1="253.9" y1="572.8" x2="254.5" y2="579"/><line x1="234.4" y1="583.5" x2="219.9" y2="585.1"/><line x1="198.1" y1="591.3" x2="188" y2="596.9"/><line x1="188" y1="613.1" x2="175.2" y2="615.8"/><line x1="154.5" y1="619.2" x2="143.4" y2="623.1"/><line x1="143.4" y1="640.4" x2="143.4" y2="654.4"/></g>
</g>
<g clip-path="url(#clipc)">
<polyline points="164.8,820.6 187.1,821.7 202.0,823.9 224.4,827.7 254.1,831.4 276.5,833.6 291.4,835.8 298.1,837.3 283.9,838.8 273.5,841.5 283.9,843.3 298.8,844.8 321.1,846.3 344.6,846.1 359.3,852.7 385.5,854.3 401.9,855.1 421.6,858.4 434.7,862.5 439.6,865.0 431.4,866.6 410.1,869.1 397.0,871.5 385.5,872.3 393.7,874.8 418.3,877.2 442.8,883.0 465.8,888.7 451.0,892.8 424.8,896.9 418.3,901.8 401.9,905.1 383.9,908.4 382.2,911.6 392.1,916.6 377.3,920.6 385.5,924.7 418.3,927.2 451.0,928.8 483.8,930.5 515.7,932.9 483.8,935.4 451.0,938.7 418.3,941.1 388.8,942.8 385.5,946.0 352.8,948.5 321.1,949.0 291.4,950.5 269.0,952.8 239.2,953.5 221.4,955.7 224.4,958.0 246.7,961.0 264.6,963.9 254.1,966.9 236.3,969.9 224.4,973.6 227.9,976.6 242.2,979.3 252.0,982.9 247.6,986.4 263.7,990.0 281.5,996.3 313.7,999.0 331.6,1000.7 349.4,1002.5 360.0,1002.5 374.3,1003.4 395.7,1006.1 413.6,1007.9 445.8,1011.5 451.1,1015.9 458.3,1017.7 485.1,1020.4 503.0,1022.2 524.4,1024.9 511.9,1031.1 520.8,1032.9 547.6,1034.7 565.5,1037.4 563.7,1042.7 572.7,1048.1 556.6,1051.7 529.8,1053.5 503.0,1055.2 467.2,1057.9 449.4,1058.0 427.0,1060.3 408.3,1063.4 402.0,1066.1 410.0,1067.9 431.5,1070.1 445.8,1071.9 428.8,1074.1 404.7,1075.9 382.3,1076.8 360.0,1079.2 335.1,1082.0 333.4,1090.1 326.2,1096.3 304.8,1103.5 297.6,1108.0 317.3,1120.5 295.8,1126.7 281.5,1132.1 279.7,1137.5 286.9,1145.6 270.8,1152.7 278.0,1160.7 295.8,1166.1 310.1,1170.6 311.0,1175.9 322.6,1179.5 338.7,1185.8 322.6,1193.8 306.5,1201.8 304.8,1209.0 295.8,1214.3 288.7,1220.6 269.0,1225.1 265.5,1228.6 260.1,1232.2 244.0,1236.7 258.3,1243.8 242.2,1253.7 254.7,1262.6 242.2,1266.2 240.4,1275.1 227.9,1280.0 211.8,1282.7 206.5,1286.3 201.1,1289.8 190.4,1295.2 194.0,1303.2 192.2,1311.3 185.0,1318.4 170.7,1323.8 161.8,1329.1 154.7,1335.4 149.3,1343.4 145.7,1351.5 144.8,1364.0 143.6,1378.3 143.0,1443.0" fill="none" stroke="#000" stroke-width="3.7" stroke-linejoin="round" stroke-linecap="round"/>
<g fill="#ff0000"><circle cx="156.6" cy="821.7" r="3.7"/><circle cx="166.3" cy="823.9" r="3.7"/><circle cx="175.2" cy="826.9" r="3.7"/><circle cx="184.9" cy="830.6" r="3.7"/><circle cx="196.1" cy="833.6" r="3.7"/><circle cx="205.7" cy="835.8" r="3.7"/><circle cx="202.8" cy="839.6" r="3.7"/><circle cx="197.5" cy="842.5" r="3.7"/><circle cx="207.2" cy="844.8" r="3.7"/><circle cx="218.4" cy="846.3" r="3.7"/><circle cx="224.4" cy="850.7" r="3.7"/><circle cx="232.5" cy="853.7" r="3.7"/><circle cx="240.7" cy="856.7" r="3.7"/><circle cx="251.2" cy="861.9" r="3.7"/><circle cx="254.9" cy="866.4" r="3.7"/><circle cx="243.0" cy="869.4" r="3.7"/><circle cx="234.8" cy="872.3" r="3.7"/><circle cx="244.5" cy="875.3" r="3.7"/><circle cx="254.1" cy="879.8" r="3.7"/><circle cx="262.3" cy="883.5" r="3.7"/><circle cx="265.3" cy="890.2" r="3.7"/><circle cx="254.1" cy="893.9" r="3.7"/><circle cx="243.0" cy="895.4" r="3.7"/><circle cx="232.5" cy="897.7" r="3.7"/><circle cx="232.5" cy="903.6" r="3.7"/><circle cx="234.0" cy="908.8" r="3.7"/><circle cx="227.3" cy="917.0" r="3.7"/><circle cx="222.1" cy="922.2" r="3.7"/><circle cx="231.8" cy="924.5" r="3.7"/><circle cx="241.5" cy="925.9" r="3.7"/><circle cx="253.4" cy="928.9" r="3.7"/><circle cx="259.3" cy="933.4" r="3.7"/><circle cx="250.4" cy="937.9" r="3.7"/><circle cx="240.7" cy="942.3" r="3.7"/><circle cx="240.0" cy="947.5" r="3.7"/><circle cx="230.3" cy="949.0" r="3.7"/><circle cx="216.9" cy="950.5" r="3.7"/><circle cx="205.7" cy="951.3" r="3.7"/><circle cx="193.8" cy="952.7" r="3.7"/><circle cx="182.7" cy="954.2" r="3.7"/><circle cx="181.2" cy="959.4" r="3.7"/><circle cx="190.1" cy="961.7" r="3.7"/><circle cx="200.5" cy="966.2" r="3.7"/><circle cx="201.3" cy="972.1" r="3.7"/><circle cx="212.7" cy="978.4" r="3.7"/><circle cx="224.3" cy="979.3" r="3.7"/><circle cx="234.2" cy="981.1" r="3.7"/><circle cx="244.9" cy="984.7" r="3.7"/><circle cx="236.9" cy="988.2" r="3.7"/><circle cx="227.0" cy="992.7" r="3.7"/><circle cx="220.8" cy="996.3" r="3.7"/><circle cx="228.8" cy="1000.7" r="3.7"/><circle cx="239.5" cy="1001.6" r="3.7"/><circle cx="248.5" cy="1004.3" r="3.7"/><circle cx="258.3" cy="1006.1" r="3.7"/><circle cx="267.2" cy="1007.9" r="3.7"/><circle cx="276.2" cy="1011.5" r="3.7"/><circle cx="273.5" cy="1016.8" r="3.7"/><circle cx="282.4" cy="1021.3" r="3.7"/><circle cx="280.6" cy="1025.8" r="3.7"/><circle cx="275.3" cy="1031.1" r="3.7"/><circle cx="284.2" cy="1033.8" r="3.7"/><circle cx="294.9" cy="1035.6" r="3.7"/><circle cx="294.9" cy="1039.2" r="3.7"/><circle cx="284.2" cy="1040.1" r="3.7"/><circle cx="286.9" cy="1045.4" r="3.7"/><circle cx="297.6" cy="1049.0" r="3.7"/><circle cx="289.6" cy="1053.5" r="3.7"/><circle cx="280.6" cy="1056.1" r="3.7"/><circle cx="268.1" cy="1057.9" r="3.7"/><circle cx="276.2" cy="1065.1" r="3.7"/><circle cx="286.9" cy="1067.8" r="3.7"/><circle cx="298.5" cy="1068.6" r="3.7"/><circle cx="310.1" cy="1068.6" r="3.7"/><circle cx="321.7" cy="1069.5" r="3.7"/><circle cx="331.6" cy="1071.3" r="3.7"/><circle cx="328.9" cy="1074.9" r="3.7"/><circle cx="318.2" cy="1076.7" r="3.7"/><circle cx="308.3" cy="1079.4" r="3.7"/><circle cx="319.1" cy="1082.9" r="3.7"/><circle cx="328.9" cy="1086.5" r="3.7"/><circle cx="337.8" cy="1089.2" r="3.7"/><circle cx="346.8" cy="1093.7" r="3.7"/><circle cx="353.9" cy="1099.0" r="3.7"/><circle cx="364.0" cy="1102.3" r="3.7"/><circle cx="374.3" cy="1104.5" r="3.7"/><circle cx="381.9" cy="1107.2" r="3.7"/><circle cx="392.2" cy="1111.2" r="3.7"/><circle cx="401.1" cy="1113.6" r="3.7"/><circle cx="410.5" cy="1116.3" r="3.7"/><circle cx="422.1" cy="1117.5" r="3.7"/><circle cx="432.4" cy="1120.2" r="3.7"/><circle cx="441.8" cy="1121.9" r="3.7"/><circle cx="433.7" cy="1125.5" r="3.7"/><circle cx="427.0" cy="1129.1" r="3.7"/><circle cx="432.4" cy="1136.7" r="3.7"/><circle cx="441.3" cy="1139.4" r="3.7"/><circle cx="448.9" cy="1144.3" r="3.7"/><circle cx="437.3" cy="1147.0" r="3.7"/><circle cx="427.0" cy="1147.9" r="3.7"/><circle cx="418.1" cy="1148.7" r="3.7"/><circle cx="409.2" cy="1151.1" r="3.7"/><circle cx="399.2" cy="1155.5" r="3.7"/><circle cx="393.8" cy="1162.9" r="3.7"/><circle cx="402.5" cy="1165.3" r="3.7"/><circle cx="413.9" cy="1166.2" r="3.7"/><circle cx="424.6" cy="1168.9" r="3.7"/><circle cx="431.3" cy="1172.9" r="3.7"/><circle cx="426.7" cy="1178.3" r="3.7"/><circle cx="436.7" cy="1181.0" r="3.7"/><circle cx="438.7" cy="1187.0" r="3.7"/><circle cx="429.3" cy="1189.7" r="3.7"/><circle cx="417.9" cy="1192.4" r="3.7"/><circle cx="409.2" cy="1196.4" r="3.7"/><circle cx="401.2" cy="1201.1" r="3.7"/><circle cx="407.2" cy="1205.8" r="3.7"/><circle cx="407.9" cy="1211.8" r="3.7"/><circle cx="397.8" cy="1213.8" r="3.7"/><circle cx="387.1" cy="1218.5" r="3.7"/><circle cx="375.7" cy="1221.9" r="3.7"/><circle cx="364.3" cy="1223.2" r="3.7"/><circle cx="355.0" cy="1224.5" r="3.7"/><circle cx="345.6" cy="1225.9" r="3.7"/><circle cx="341.5" cy="1229.2" r="3.7"/><circle cx="336.9" cy="1233.3" r="3.7"/><circle cx="325.5" cy="1234.6" r="3.7"/><circle cx="313.4" cy="1235.9" r="3.7"/><circle cx="304.0" cy="1237.9" r="3.7"/><circle cx="313.4" cy="1240.0" r="3.7"/><circle cx="322.8" cy="1241.3" r="3.7"/><circle cx="330.8" cy="1246.0" r="3.7"/><circle cx="322.8" cy="1250.0" r="3.7"/><circle cx="324.1" cy="1256.7" r="3.7"/><circle cx="334.2" cy="1258.7" r="3.7"/><circle cx="345.6" cy="1260.1" r="3.7"/><circle cx="355.0" cy="1262.7" r="3.7"/><circle cx="344.9" cy="1265.4" r="3.7"/><circle cx="334.2" cy="1266.8" r="3.7"/><circle cx="327.5" cy="1272.8" r="3.7"/><circle cx="318.8" cy="1276.8" r="3.7"/><circle cx="307.4" cy="1278.8" r="3.7"/><circle cx="295.8" cy="1280.9" r="3.7"/><circle cx="284.2" cy="1281.8" r="3.7"/><circle cx="272.6" cy="1282.7" r="3.7"/><circle cx="261.0" cy="1287.1" r="3.7"/><circle cx="251.2" cy="1290.7" r="3.7"/><circle cx="238.6" cy="1295.2" r="3.7"/><circle cx="240.4" cy="1298.8" r="3.7"/><circle cx="248.5" cy="1301.4" r="3.7"/><circle cx="257.4" cy="1305.9" r="3.7"/><circle cx="249.4" cy="1312.2" r="3.7"/><circle cx="238.6" cy="1315.4" r="3.7"/><circle cx="227.0" cy="1319.3" r="3.7"/><circle cx="217.2" cy="1321.5" r="3.7"/><circle cx="208.3" cy="1323.2" r="3.7"/><circle cx="197.5" cy="1326.1" r="3.7"/><circle cx="187.7" cy="1329.7" r="3.7"/><circle cx="178.8" cy="1332.7" r="3.7"/><circle cx="169.8" cy="1337.2" r="3.7"/><circle cx="160.0" cy="1343.4" r="3.7"/><circle cx="152.0" cy="1350.6" r="3.7"/><circle cx="150.2" cy="1359.5" r="3.7"/><circle cx="148.4" cy="1368.5" r="3.7"/><circle cx="143.0" cy="1374.7" r="3.7"/><circle cx="143.0" cy="1388.1" r="3.7"/><circle cx="143.0" cy="1399.7" r="3.7"/><circle cx="143.0" cy="1411.3" r="3.7"/><circle cx="143.0" cy="1423.0" r="3.7"/><circle cx="143.0" cy="1434.6" r="3.7"/></g>
<g stroke="#2390ff" stroke-width="5.2" stroke-linecap="round" fill="none"><line x1="142.6" y1="821" x2="146.2" y2="840.3"/><line x1="151.4" y1="856" x2="152.9" y2="866.4"/><line x1="168.5" y1="876.1" x2="176.7" y2="882.8"/><line x1="173" y1="897.6" x2="178.9" y2="907.3"/><line x1="191.6" y1="915.5" x2="195.3" y2="923"/><line x1="213.2" y1="927.4" x2="225.8" y2="928.9"/><line x1="226.6" y1="936.4" x2="231.1" y2="944.6"/><line x1="232.5" y1="949" x2="218.4" y2="951.3"/><line x1="196.8" y1="952.7" x2="181.9" y2="955.7"/><line x1="172.2" y1="959.5" x2="178.2" y2="966.9"/><line x1="190.4" y1="978.4" x2="203.8" y2="979.3"/><line x1="220.8" y1="981.1" x2="227.9" y2="987.3"/><line x1="208.3" y1="993.6" x2="198.4" y2="995.4"/><line x1="182.4" y1="999.8" x2="172.5" y2="1007"/><line x1="183.2" y1="1024" x2="182.4" y2="1033.8"/><line x1="183.2" y1="1047.2" x2="182.4" y2="1057"/><line x1="174.3" y1="1069.5" x2="169" y2="1077.6"/><line x1="165.4" y1="1093.7" x2="160.9" y2="1103.5"/><line x1="162.4" y1="1124.2" x2="158.5" y2="1134.6"/><line x1="157.8" y1="1154.8" x2="160.5" y2="1168.5"/><line x1="161.8" y1="1188.8" x2="158.5" y2="1195.3"/><line x1="155.2" y1="1214.9" x2="155.2" y2="1226"/><line x1="153.9" y1="1246.9" x2="153.9" y2="1258"/><line x1="166.3" y1="1274.9" x2="174.8" y2="1281.5"/><line x1="185" y1="1297" x2="196.7" y2="1301.4"/><line x1="194" y1="1319.3" x2="185" y2="1322.9"/><line x1="170.7" y1="1331.8" x2="161.8" y2="1341.7"/><line x1="162.7" y1="1357.7" x2="169.8" y2="1365.8"/><line x1="154.7" y1="1372" x2="143" y2="1377.4"/><line x1="143" y1="1396.2" x2="143" y2="1412.2"/><line x1="143" y1="1433.7" x2="143" y2="1443"/></g>
</g>
<g clip-path="url(#clipb)">
<polyline points="1030.0,32.1 1025.5,34.5 1023.5,39.9 1016.4,43.4 999.4,45.6 982.4,47.7 968.3,50.5 951.3,53.3 948.5,54.8 958.4,56.9 975.4,59.0 1003.6,61.1 1031.9,63.2 1053.2,67.5 1067.3,70.3 1071.5,73.1 1064.5,77.4 1058.8,81.6 1058.8,88.7 1067.3,93.6 1081.4,97.9 1085.7,101.4 1081.4,109.2 1087.1,114.9 1095.6,123.4 1097.0,130.4 1102.7,137.5 1112.3,147.8 1113.9,150.5 1106.2,154.5 1096.5,157.9 1082.0,160.8 1067.4,163.2 1048.1,165.2 1028.7,167.1 1009.4,168.6 990.0,169.6 974.7,169.9 948.6,172.0 922.5,173.0 896.5,175.1 877.7,179.8 889.2,183.5 912.1,185.5 943.4,188.1 964.2,191.3 983.0,193.9 964.2,197.5 938.2,200.1 912.1,202.7 891.3,204.8 879.8,208.5 894.4,211.6 922.5,214.2 943.4,215.2 969.5,217.3 996.1,217.5 1016.2,218.9 1033.6,219.5 1049.7,221.5 1067.1,222.9 1084.5,223.6 1093.9,226.2 1092.6,230.9 1093.3,239.0 1088.6,245.7 1076.5,257.7 1064.4,263.1 1059.1,267.1 1067.1,272.5 1067.8,280.5 1067.1,287.2 1067.8,296.6 1060.4,303.3 1056.4,307.3 1057.7,312.7 1060.4,318.0 1049.7,323.4 1040.3,327.4 1040.3,332.8 1047.0,336.1 1060.4,339.5 1073.8,343.0 1074.2,348.9 1074.2,356.7 1082.6,361.9 1099.2,369.2 1120.1,379.6 1128.4,385.9 1138.8,398.4 1155.5,406.7 1182.6,414.0 1207.7,419.2 1213.9,423.4 1197.2,429.7 1176.4,437.0 1166.0,445.3 1166.0,458.8 1172.2,467.2 1197.2,474.5 1228.5,478.7 1249.4,481.8 1249.4,489.1 1261.9,494.3 1283.4,499.7 1274.4,504.1 1256.6,508.6 1238.7,514.0 1220.8,521.1 1203.0,524.7 1185.1,529.1 1181.5,533.6 1181.5,544.3 1185.1,551.5 1201.2,558.6 1185.1,563.1 1167.2,567.6 1149.3,571.1 1135.1,578.3 1127.9,585.4 1124.3,594.4 1122.5,605.1 1120.8,619.4 1119.0,633.7 1119.0,654.4" fill="none" stroke="#ff8814" stroke-width="5.0" stroke-linejoin="round" stroke-linecap="round"/>
<g stroke="#0052a5" stroke-width="6.2" stroke-linecap="round" stroke-linejoin="round" fill="none"><polyline points="1123.8,33.7 1122.1,46.0"/><polyline points="1121.3,71.4 1123.8,83.7"/><polyline points="1119.7,108.3 1121.3,121.4"/><polyline points="1118.0,144.3 1116.4,157.4"/><polyline points="1092.6,165.8 1080.2,169.5"/><polyline points="1055.4,177.2 1064.1,183.6"/><polyline points="1085.9,194.7 1087.9,207.5"/><polyline points="1096.6,228.3 1083.9,234.3"/><polyline points="1070.5,252.4 1061.8,261.1"/><polyline points="1061.1,283.9 1067.1,291.2"/><polyline points="1077.2,307.3 1087.2,317.4"/><polyline points="1106.0,332.8 1108.7,344.2"/><polyline points="1102.4,361.9 1107.6,372.3"/><polyline points="1103.4,394.2 1108.6,402.6"/><polyline points="1091.9,424.4 1101.3,433.8"/><polyline points="1121.1,452.6 1131.6,457.8"/><polyline points="1143.0,475.5 1149.3,484.9"/><polyline points="1157.4,506.8 1160.1,518.4"/><polyline points="1159.2,539.0 1169.9,546.1"/><polyline points="1191.3,553.3 1201.2,561.3"/><polyline points="1176.2,567.6 1163.6,571.1"/><polyline points="1140.4,581.9 1131.5,591.7"/><polyline points="1124.3,608.7 1120.8,621.2"/><polyline points="1119.0,640.8 1119.0,654.2"/></g>
<g fill="#0052a5"><circle cx="1123.8" cy="59.1" r="3.3"/><circle cx="1120.5" cy="96.8" r="3.3"/><circle cx="1119.7" cy="133.7" r="3.3"/><circle cx="1104" cy="163.1" r="3.3"/><circle cx="1066.6" cy="172.1" r="3.3"/><circle cx="1075.8" cy="187.5" r="3.3"/><circle cx="1098.6" cy="218.2" r="3.3"/><circle cx="1078.5" cy="245" r="3.3"/><circle cx="1063.8" cy="274.5" r="3.3"/><circle cx="1079.8" cy="297.3" r="3.3"/><circle cx="1096.6" cy="324.8" r="3.3"/><circle cx="1100" cy="351.6" r="3.3"/><circle cx="1101.3" cy="382.7" r="3.3"/><circle cx="1098.2" cy="414" r="3.3"/><circle cx="1109.7" cy="443.2" r="3.3"/><circle cx="1137.8" cy="466.1" r="3.3"/><circle cx="1156.5" cy="497" r="3.3"/><circle cx="1162.8" cy="528.2" r="3.3"/><circle cx="1179.7" cy="548.8" r="3.3"/><circle cx="1187.8" cy="564" r="3.3"/><circle cx="1151.1" cy="576.5" r="3.3"/><circle cx="1129.7" cy="601.5" r="3.3"/><circle cx="1119.9" cy="630.1" r="3.3"/></g>
</g>
<g clip-path="url(#clipd)">
<polyline points="1120.8,820.6 1118.1,823.0 1113.6,826.7 1083.8,831.2 1061.5,834.9 1039.1,836.4 1028.7,838.6 1028.0,842.3 1037.6,846.8 1036.2,849.8 1016.8,856.5 1009.4,859.5 1007.9,863.9 1015.3,869.1 1013.8,873.6 994.5,876.6 964.7,880.3 942.3,884.0 927.4,887.8 937.9,890.7 964.7,895.2 984.0,897.4 986.3,901.2 976.6,903.4 961.7,907.9 961.7,910.8 972.1,914.6 994.5,918.3 1016.8,921.3 1025.7,924.2 1027.2,930.2 1031.7,934.7 1046.6,940.6 1061.5,946.6 1083.8,951.8 1098.7,954.8 1107.5,959.2 1111.4,965.3 1102.6,972.1 1091.0,978.9 1089.1,984.0 1092.0,991.8 1085.2,997.6 1073.6,1003.4 1060.1,1008.2 1051.3,1014.1 1058.1,1020.8 1063.9,1027.6 1058.1,1038.3 1052.3,1047.9 1063.9,1055.7 1069.7,1063.4 1073.6,1069.2 1093.0,1078.9 1112.3,1090.5 1123.9,1101.6 1137.0,1109.8 1148.5,1118.0 1161.6,1132.8 1168.1,1152.4 1182.8,1167.2 1199.2,1175.3 1215.6,1178.6 1230.4,1184.4 1235.3,1189.3 1223.8,1195.8 1210.7,1201.6 1209.1,1206.5 1223.8,1213.8 1228.7,1217.9 1220.5,1226.1 1209.1,1234.3 1207.4,1242.5 1203.3,1250.7 1209.1,1260.5 1223.8,1272.0 1225.2,1274.5 1214.0,1281.9 1199.1,1286.4 1184.2,1290.8 1175.3,1294.6 1173.8,1299.8 1177.5,1307.2 1170.8,1314.7 1154.5,1321.4 1147.0,1324.4 1136.6,1331.1 1129.1,1340.0 1124.7,1351.9 1121.7,1363.8 1119.5,1374.2 1118.7,1389.1 1118.7,1442.7" fill="none" stroke="#ff8814" stroke-width="5.0" stroke-linejoin="round" stroke-linecap="round"/>
<g stroke="#0052a5" stroke-width="6.2" stroke-linecap="round" stroke-linejoin="round" fill="none"><polyline points="1119.1,840.2 1118.1,852.8"/><polyline points="1113.3,872.1 1105.6,879.9"/><polyline points="1095.9,898.3 1090.1,903.1"/><polyline points="1091.0,917.6 1087.2,924.4"/><polyline points="1070.7,938.9 1063.0,943.8"/><polyline points="1068.8,954.4 1066.8,963.1"/><polyline points="1043.6,967.6 1033.9,968.6"/><polyline points="1009.7,971.5 999.1,972.4"/><polyline points="976.8,974.4 965.2,975.3"/><polyline points="938.1,977.3 929.4,978.2"/><polyline points="903.2,979.2 892.6,980.5 896.0,985.2"/><polyline points="908.1,986.0 920.7,986.9"/><polyline points="943.9,988.9 954.5,990.8"/><polyline points="972.0,990.8 984.5,991.8"/><polyline points="1007.8,994.7 1019.4,996.6"/><polyline points="1042.6,998.6 1054.2,999.9"/><polyline points="1063.0,1007.3 1063.0,1016.0"/><polyline points="1081.4,1022.8 1091.0,1028.6"/><polyline points="1102.8,1041.3 1107.4,1051.1"/><polyline points="1108.1,1064.8 1100.9,1070.0"/><polyline points="1106.1,1089.6 1110.7,1095.5"/><polyline points="1124.4,1110.5 1127.6,1118.3"/><polyline points="1128.8,1139.3 1126.3,1150.8"/><polyline points="1119.0,1168.8 1124.7,1178.6"/><polyline points="1118.1,1199.9 1121.4,1213.0"/><polyline points="1128.8,1231.0 1135.3,1240.9"/><polyline points="1134.5,1260.5 1142.7,1265.4"/><polyline points="1158.3,1279.4 1168.4,1282.7"/><polyline points="1184.2,1293.1 1193.2,1296.8"/><polyline points="1211.0,1302.0 1220.0,1306.5"/><polyline points="1202.1,1316.9 1193.2,1319.9"/><polyline points="1172.3,1325.8 1164.9,1330.3"/><polyline points="1147.0,1338.5 1137.3,1343.7"/><polyline points="1127.7,1363.1 1123.2,1372.0"/><polyline points="1119.5,1392.1 1120.2,1404.0"/><polyline points="1119.5,1430.8 1119.5,1442.7"/></g>
<g fill="#0052a5"><circle cx="1120.1" cy="828.6" r="3.3"/><circle cx="1116.2" cy="862.4" r="3.3"/><circle cx="1098.8" cy="887.6" r="3.3"/><circle cx="1087.2" cy="910.8" r="3.3"/><circle cx="1078.5" cy="930.2" r="3.3"/><circle cx="1061" cy="950.5" r="3.3"/><circle cx="1056.2" cy="966" r="3.3"/><circle cx="1022.3" cy="969.7" r="3.3"/><circle cx="987.5" cy="973.4" r="3.3"/><circle cx="955.5" cy="975.3" r="3.3"/><circle cx="917.8" cy="978.2" r="3.3"/><circle cx="932.3" cy="987.9" r="3.3"/><circle cx="961.3" cy="989.8" r="3.3"/><circle cx="996.2" cy="992.8" r="3.3"/><circle cx="1031" cy="996.6" r="3.3"/><circle cx="1063.9" cy="1002.4" r="3.3"/><circle cx="1071.7" cy="1019.9" r="3.3"/><circle cx="1097.8" cy="1032.4" r="3.3"/><circle cx="1113" cy="1058.9" r="3.3"/><circle cx="1100.2" cy="1080.8" r="3.3"/><circle cx="1116.5" cy="1102.6" r="3.3"/><circle cx="1129.9" cy="1129.1" r="3.3"/><circle cx="1121.4" cy="1158.1" r="3.3"/><circle cx="1119.8" cy="1190.1" r="3.3"/><circle cx="1124.7" cy="1222.9" r="3.3"/><circle cx="1135.3" cy="1249.9" r="3.3"/><circle cx="1150.1" cy="1274.4" r="3.3"/><circle cx="1176.3" cy="1287.9" r="3.3"/><circle cx="1201.4" cy="1300.5" r="3.3"/><circle cx="1211" cy="1313.2" r="3.3"/><circle cx="1181.3" cy="1322.1" r="3.3"/><circle cx="1155.9" cy="1334" r="3.3"/><circle cx="1132.9" cy="1353.4" r="3.3"/><circle cx="1119.5" cy="1380.9" r="3.3"/><circle cx="1119.5" cy="1418.9" r="3.3"/></g>
</g>
<line x1="141.5" y1="187.70" x2="642.5" y2="187.70" stroke="#808080" stroke-width="3.4"/>
<line x1="819.6" y1="187.70" x2="1320.6" y2="187.70" stroke="#808080" stroke-width="3.4"/>
<line x1="1121.12" y1="30.6" x2="1121.12" y2="654.5" stroke="#808080" stroke-width="3.2"/>
<line x1="141.5" y1="976.20" x2="642.5" y2="976.20" stroke="#808080" stroke-width="3.4"/>
<line x1="819.6" y1="976.20" x2="1320.6" y2="976.20" stroke="#808080" stroke-width="3.4"/>
<line x1="1121.12" y1="819.1" x2="1121.12" y2="1443.0" stroke="#808080" stroke-width="3.2"/>
</svg></body></html>
